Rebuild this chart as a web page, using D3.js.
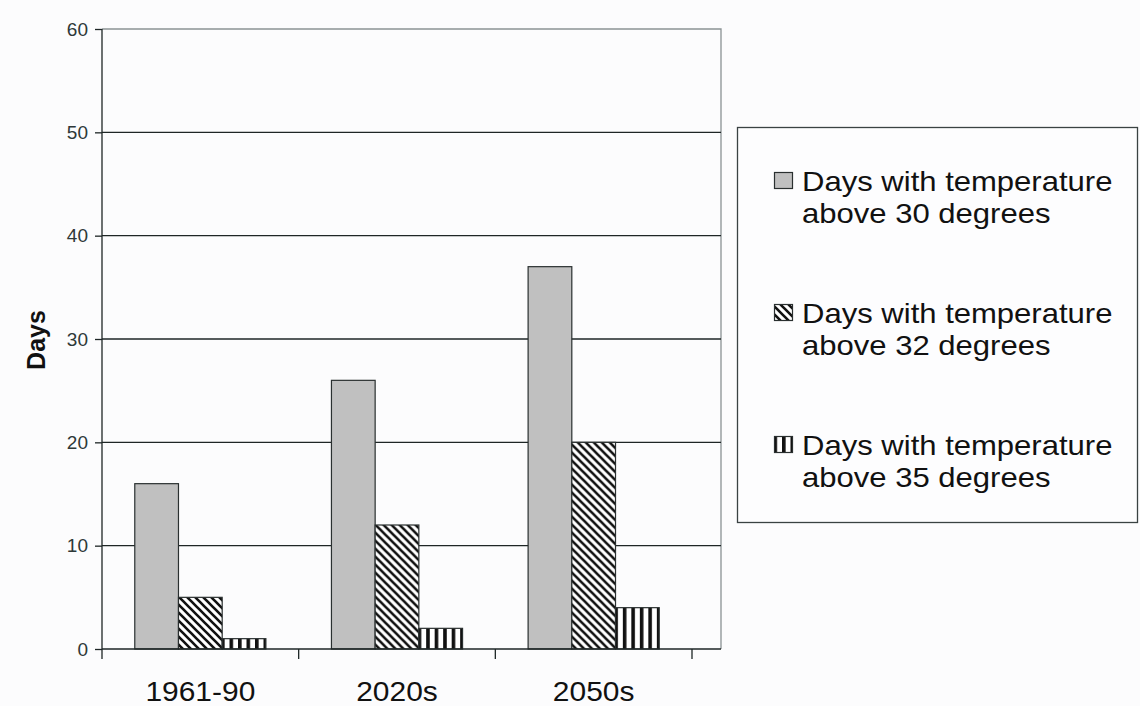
<!DOCTYPE html>
<html>
<head>
<meta charset="utf-8">
<script src="https://cdn.jsdelivr.net/npm/d3@7"></script>
<style>
  html, body { margin: 0; padding: 0; background: #fcfcfd; }
  svg { display: block; font-family: "Liberation Sans", Arial, sans-serif; }
</style>
</head>
<body>
<svg id="chart" width="1140" height="706"></svg>
<script>
// Chart data
const periods = ["1961-90", "2020s", "2050s"];
const seriesNames = [
  ["Days with temperature", "above 30 degrees"],
  ["Days with temperature", "above 32 degrees"],
  ["Days with temperature", "above 35 degrees"]
];
const above30 = [16, 26, 37];
const above32 = [5, 12, 20];
const above35 = [1, 2, 4];
const yTicks = [0, 10, 20, 30, 40, 50, 60];

const series = [above30, above32, above35];
const fills = ["#c0c0c0", "url(#diag)", "url(#vert)"];

const svg = d3.select("#chart");

// Hatch patterns
const defs = svg.append("defs");
const diag = defs.append("pattern").attr("id", "diag")
  .attr("patternUnits", "userSpaceOnUse").attr("width", 8).attr("height", 8);
diag.append("rect").attr("width", 8).attr("height", 8).attr("fill", "#fff");
diag.append("path").attr("d", "M-2,-2 L10,10 M-2,6 L2,10 M6,-2 L10,2")
  .attr("stroke", "#111").attr("stroke-width", 2.6);
const vert = defs.append("pattern").attr("id", "vert")
  .attr("patternUnits", "userSpaceOnUse").attr("width", 8.5).attr("height", 8);
vert.append("rect").attr("width", 8.5).attr("height", 8).attr("fill", "#fff");
vert.append("rect").attr("x", 0).attr("width", 3.6).attr("height", 8).attr("fill", "#111");

// Layout
const plotLeft = 102, plotRight = 721, plotTop = 29, plotBottom = 649;
const axisRight = 692;

const x = d3.scaleBand().domain(periods).range([plotLeft, axisRight]);
const xs = d3.scaleBand().domain(d3.range(series.length))
  .range([0, x.bandwidth()]).paddingInner(0).paddingOuter(0.75);
const y = d3.scaleLinear().domain([0, 60]).range([plotBottom, plotTop]);

// Plot frame (grey) on top and right
svg.append("path")
  .attr("d", `M${plotLeft},${plotTop}H${plotRight}V${plotBottom}`)
  .attr("fill", "none").attr("stroke", "#8a9294").attr("stroke-width", 1.3);

// Gridlines
svg.append("g").selectAll("line")
  .data(yTicks.filter(t => t > 0 && t < 60))
  .join("line")
  .attr("x1", plotLeft).attr("x2", plotRight)
  .attr("y1", d => y(d)).attr("y2", d => y(d))
  .attr("stroke", "#1e2626").attr("stroke-width", 1.3);

// Bars
const groups = svg.append("g").selectAll("g")
  .data(periods)
  .join("g")
  .attr("transform", d => `translate(${x(d)},0)`);

groups.selectAll("rect")
  .data((p, i) => series.map((s, k) => ({ k, v: s[i] })))
  .join("rect")
  .attr("x", d => xs(d.k))
  .attr("width", xs.bandwidth())
  .attr("y", d => y(d.v))
  .attr("height", d => y(0) - y(d.v))
  .attr("fill", d => fills[d.k])
  .attr("stroke", "#2a3030")
  .attr("stroke-width", 1.2);

// Y axis
const yAxis = svg.append("g")
  .attr("transform", `translate(${plotLeft},0)`)
  .call(d3.axisLeft(y).tickValues(yTicks).tickSize(7).tickPadding(7));
yAxis.attr("font-size", 19);
yAxis.select(".domain").attr("stroke", "#1e2626").attr("stroke-width", 1.3)
  .attr("d", `M0,${plotTop}V${plotBottom}`);
yAxis.selectAll(".tick line").attr("stroke", "#1e2626").attr("stroke-width", 1.3);
yAxis.selectAll(".tick text").attr("font-size", 19).attr("fill", "#2e3838")
  .attr("font-family", "'Liberation Sans', Arial, sans-serif");

// X axis line and category ticks
svg.append("line")
  .attr("x1", plotLeft).attr("x2", plotRight)
  .attr("y1", plotBottom).attr("y2", plotBottom)
  .attr("stroke", "#1e2626").attr("stroke-width", 1.3);
const boundaries = periods.map(p => x(p)).concat([x(periods[periods.length - 1]) + x.bandwidth()]);
svg.append("g").selectAll("line")
  .data(boundaries)
  .join("line")
  .attr("x1", d => d).attr("x2", d => d)
  .attr("y1", plotBottom).attr("y2", plotBottom + 10)
  .attr("stroke", "#1e2626").attr("stroke-width", 1.3);

// Category labels
svg.append("g").selectAll("g")
  .data(periods)
  .join("g")
  .attr("transform", d => `translate(${x(d) + x.bandwidth() / 2},701) scale(1.07,1)`)
  .append("text")
  .attr("text-anchor", "middle")
  .attr("font-size", 28)
  .attr("fill", "#111")
  .text(d => d);

// Y axis title
svg.append("text")
  .attr("transform", "translate(45,340) rotate(-90)")
  .attr("text-anchor", "middle")
  .attr("font-size", 25)
  .attr("font-weight", "bold")
  .attr("fill", "#111")
  .text("Days");

// Legend
const legend = svg.append("g");
legend.append("rect")
  .attr("x", 737.5).attr("y", 127.5).attr("width", 400).attr("height", 395)
  .attr("fill", "#fdfdfe").attr("stroke", "#3a4242").attr("stroke-width", 1.3);

const items = legend.selectAll("g.item")
  .data(seriesNames)
  .join("g").attr("class", "item")
  .attr("transform", (d, i) => `translate(0,${i * 132})`);
items.append("rect")
  .attr("x", 774.5).attr("y", 172.5).attr("width", 18).attr("height", 16)
  .attr("fill", (d, i) => fills[i])
  .attr("stroke", "#2a3030").attr("stroke-width", 1.2);
items.each(function (lines) {
  lines.forEach((ln, j) => {
    d3.select(this).append("g")
      .attr("transform", `translate(802,${191 + j * 32}) scale(1.15,1)`)
      .append("text")
      .attr("font-size", 27).attr("fill", "#111")
      .text(ln);
  });
});
</script>
</body>
</html>
